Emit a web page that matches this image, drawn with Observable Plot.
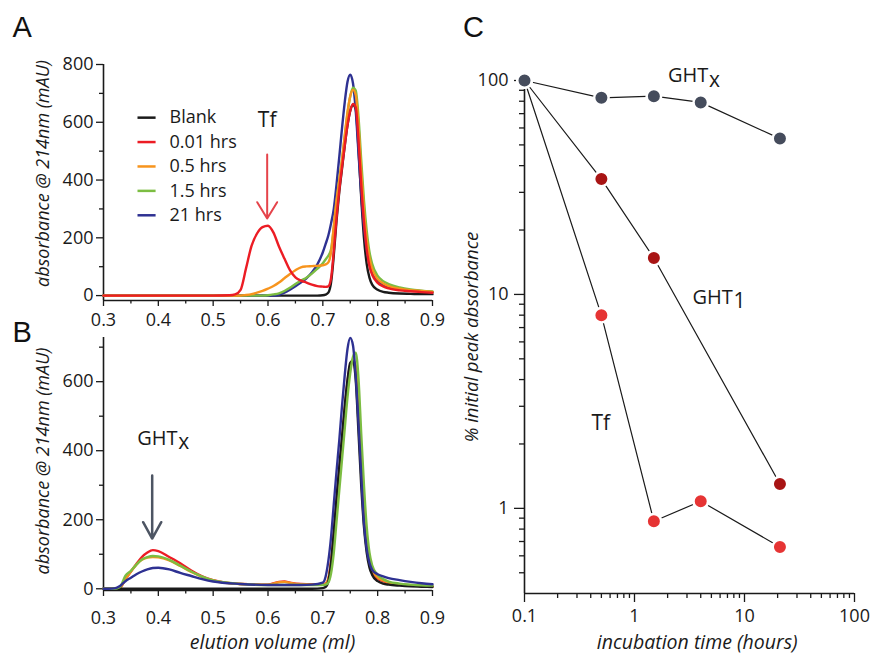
<!DOCTYPE html>
<html><head><meta charset="utf-8">
<script src="https://cdn.jsdelivr.net/npm/d3@7"></script>
<script src="https://cdn.jsdelivr.net/npm/@observablehq/plot@0.6"></script>
<style>
html,body{margin:0;padding:0;background:#fff;}
#root{position:relative;width:875px;height:653px;overflow:hidden;}
#root svg{position:absolute;}
</style></head><body><div id="root"></div>
<script>
// ---------- data ----------
const seriesNames = ["Blank", "0.01 hrs", "0.5 hrs", "1.5 hrs", "21 hrs"];
const seriesColors = ["#1a1a1a", "#ec1c24", "#f7941d", "#7cbd42", "#2e3192"];

// Panel A (elution volume, ml)
const xA = [0.30,0.40,0.50,0.53,0.54,0.55,0.56,0.57,0.58,0.59,0.60,0.61,0.62,0.63,0.64,0.65,0.66,0.67,0.68,0.69,
  0.70,0.705,0.71,0.715,0.72,0.725,0.73,0.735,0.74,0.745,0.75,0.755,0.76,0.765,0.77,0.775,0.78,0.785,0.79,0.80,0.81,0.82,0.84,0.86,0.88,0.90];
const blankA = [0,0,0,0,0,0,0,0,0,0,0,0,0,0,0,0,0,0,0,0,
  1,3,10,45,140,260,360,440,520,590,640,660,645,510,340,200,110,62,38,20,13,10,7,6,5,5];
const redA = [0,0,0,1,4,20,95,172,215,237,242,218,170,128,88,63,52,45,38,33,
  31,30,32,60,155,270,365,445,520,590,640,663,652,540,385,255,160,102,72,44,32,25,18,15,12,10];
const orangeA = [0,0,0,0,0,0,2,5,10,16,24,33,45,60,75,88,98,101,102,103,
  105,108,115,150,240,330,400,470,555,635,690,712,695,590,430,295,195,130,92,57,42,33,24,19,16,13];
const greenA = [0,0,0,0,0,0,0,0,0,0,1,4,8,16,27,40,52,62,76,93,
  112,125,138,160,235,325,400,470,550,630,690,720,710,620,470,330,225,152,110,68,50,40,28,21,17,14];
const blueA = [0,0,0,0,0,0,0,0,0,0,0,0,3,10,20,32,45,60,80,108,
  150,178,208,250,300,385,480,580,670,740,765,735,640,495,350,235,158,110,80,50,38,30,22,18,15,12];

// Panel B
const xB = [0.30,0.31,0.32,0.33,0.34,0.35,0.36,0.37,0.38,0.39,0.40,0.42,0.44,0.46,0.48,0.50,0.55,0.60,0.62,0.63,0.64,0.66,0.68,
  0.70,0.705,0.71,0.715,0.72,0.725,0.73,0.735,0.74,0.745,0.75,0.755,0.76,0.765,0.77,0.775,0.78,0.785,0.79,0.80,0.81,0.82,0.84,0.86,0.88,0.90];
const blankB = [0,0,0,0,0,0,0,0,0,0,0,0,0,0,0,0,0,0,0,0,0,0,0,
  2,5,22,75,165,265,355,440,530,605,655,660,605,455,300,180,105,62,40,22,15,12,9,7,6,5];
const redB = [0,0,0,3,28,50,72,92,105,112,109,92,74,53,36,25,14,12,20,21,18,14,13,
  13,15,28,80,160,250,340,430,520,600,648,662,635,510,355,225,135,80,52,30,22,17,12,10,8,7];
const orangeB = [0,0,0,3,27,50,70,84,90,92,91,82,66,49,34,24,14,12,19,20,17,13,12,
  12,14,28,75,150,240,330,420,510,590,640,662,645,530,370,235,140,85,55,33,24,18,13,10,8,7];
const greenB = [0,0,0,5,38,52,70,85,92,95,94,84,67,50,35,24,14,11,11,11,11,11,11,
  11,12,18,45,105,195,285,375,465,555,625,672,684,610,450,300,180,105,68,40,28,21,15,12,10,9];
const blueB = [0,0,1,8,22,32,42,50,56,60,61,56,46,37,28,21,14,11,11,11,11,11,12,
  18,35,80,150,245,340,430,530,620,695,727,705,615,480,330,190,115,75,55,42,36,31,25,20,16,13];

// Panel C (incubation time, hours; % initial peak absorbance)
const ghtxTime = [0.1, 0.5, 1.5, 4, 21];
const ghtxPct  = [100, 83, 84.5, 79, 53.5];
const ght1Time = [0.1, 0.5, 1.5, 21];
const ght1Pct  = [100, 34.6, 14.8, 1.3];
const tfTime   = [0.1, 0.5, 1.5, 4, 21];
const tfPct    = [100, 8.0, 0.87, 1.08, 0.66];
const cColors  = {ghtx: "#454c5c", ght1: "#a81414", tf: "#e63434"};

// ticks
const xMajorAB = [0.3,0.4,0.5,0.6,0.7,0.8,0.9];
const xMinorAB = [0.35,0.45,0.55,0.65,0.75,0.85];
const yMajorA = [0,200,400,600,800];
const yMinorA = [100,300,500,700];
const yMajorB = [0,200,400,600];
const yMinorB = [100,300,500,700];
const xMajorC = [0.1,1,10,100];
const xMinorC = [0.2,0.3,0.4,0.5,0.6,0.7,0.8,0.9,2,3,4,5,6,7,8,9,20,30,40,50,60,70,80,90];
const yMajorC = [1,10,100];
const yMinorC = [0.5,0.6,0.7,0.8,0.9,2,3,4,5,6,7,8,9,20,30,40,50,60,70,80,90];

// ---------- helpers ----------
const FONT = "'Open Sans', sans-serif";
const INK = "#1a1a1a";
const rows = (xs, ys) => xs.map((x, i) => ({x, y: ys[i]}));
const curve = (xs, ys, color) => Plot.line(rows(xs, ys), {x: "x", y: "y", stroke: color, strokeWidth: 2.4, curve: "monotone-x"});
const blankFmt = () => "";
const fmt1 = d3.format(".1f");
const yTitle = (label, dx, dy, size) => Plot.text([label], {frameAnchor: "left", rotate: -90, textAnchor: "middle", lineAnchor: "middle", dx, dy, fontSize: size, fontStyle: "italic", fill: INK});
const xTitle = (label, dx, dy, size) => Plot.text([label], {frameAnchor: "bottom", textAnchor: "middle", lineAnchor: "bottom", dx, dy, fontSize: size, fontStyle: "italic", fill: INK});
const letter = (label, dx, dy) => Plot.text([label], {frameAnchor: "top-left", dx, dy, lineAnchor: "bottom", textAnchor: "start", fontSize: 29, fontFamily: "'Liberation Sans', Arial, sans-serif", fill: "#111"});

const root = document.getElementById("root");
function place(svg, left, top) { svg.style.left = left + "px"; svg.style.top = top + "px"; root.appendChild(svg); }

// ---------- Panel A ----------
const legendRows = seriesNames.map((name, i) => ({name, color: seriesColors[i], i}));
const legendY = d => 616 - d.i * 84.5;
const tfAnnA = [{x: 0.5985, y: 585, label: "Tf"}];
const arrowA = [{x1: 0.5985, y1: 488, x2: 0.5985, y2: 267}];

const plotA = Plot.plot({
  width: 440, height: 330,
  marginLeft: 103, marginRight: 8, marginTop: 64, marginBottom: 30,
  style: {fontFamily: FONT, fontSize: "18px", color: INK, background: "transparent", overflow: "visible"},
  x: {domain: [0.3, 0.9]},
  y: {domain: [-17, 800]},
  color: {type: "identity"},
  marks: [
    Plot.axisX({ticks: xMajorAB, tickSize: 6, tickPadding: 7, tickFormat: fmt1, label: null, fontSize: 18, strokeWidth: 1.3}),
    Plot.axisX({ticks: xMinorAB, tickSize: 3.5, tickFormat: blankFmt, label: null, strokeWidth: 1.3}),
    Plot.axisY({ticks: yMajorA, tickSize: 7, tickPadding: 3, label: null, fontSize: 18, strokeWidth: 1.3}),
    Plot.axisY({ticks: yMinorA, tickSize: 4, tickFormat: blankFmt, label: null, strokeWidth: 1.3}),
    Plot.ruleX([0.3], {stroke: INK, strokeWidth: 1.6}),
    Plot.ruleY([-17], {stroke: INK, strokeWidth: 1.6}),
    curve(xA, blankA, seriesColors[0]),
    curve(xA, blueA, seriesColors[4]),
    curve(xA, greenA, seriesColors[3]),
    curve(xA, orangeA, seriesColors[2]),
    curve(xA, redA, seriesColors[1]),
    Plot.link(legendRows, {x1: () => 0.362, x2: () => 0.395, y1: legendY, y2: legendY, stroke: "color", strokeWidth: 2.5}),
    Plot.text(legendRows, {x: () => 0.4204, y: legendY, text: "name", textAnchor: "start", fontSize: 18, fill: INK}),
    Plot.text(tfAnnA, {x: "x", y: "y", text: "label", lineAnchor: "bottom", fontSize: 21, fill: INK}),
    Plot.arrow(arrowA, {x1: "x1", y1: "y1", x2: "x2", y2: "y2", stroke: "#e5434a", strokeWidth: 2, headLength: 14.3, headAngle: 63}),
    yTitle("absorbance @ 214nm (mAU)", -60, -9, 18),
    letter("A", -91, -28)
  ]
});
place(plotA, 0, 0);

// ---------- Panel B ----------
const ghtAnnB = [{x: 0.3615, y: 417.7}];
const arrowB = [{x1: 0.3888, y1: 328, x2: 0.3888, y2: 145.6}];
const plotB = Plot.plot({
  width: 440, height: 323,
  marginLeft: 103, marginRight: 8, marginTop: 7, marginBottom: 63,
  style: {fontFamily: FONT, fontSize: "18px", color: INK, background: "transparent", overflow: "visible"},
  x: {domain: [0.3, 0.9]},
  y: {domain: [-5, 728]},
  marks: [
    Plot.axisX({ticks: xMajorAB, tickSize: 6, tickPadding: 15, tickFormat: fmt1, label: null, fontSize: 18, strokeWidth: 1.3}),
    Plot.axisX({ticks: xMinorAB, tickSize: 3.5, tickFormat: blankFmt, label: null, strokeWidth: 1.3}),
    Plot.axisY({ticks: yMajorB, tickSize: 7, tickPadding: 3, label: null, fontSize: 18, strokeWidth: 1.3}),
    Plot.axisY({ticks: yMinorB, tickSize: 4, tickFormat: blankFmt, label: null, strokeWidth: 1.3}),
    Plot.ruleX([0.3], {stroke: INK, strokeWidth: 1.6}),
    Plot.ruleY([-5], {stroke: INK, strokeWidth: 1.6}),
    curve(xB, redB, seriesColors[1]),
    curve(xB, orangeB, seriesColors[2]),
    curve(xB, blankB, seriesColors[0]),
    curve(xB, greenB, seriesColors[3]),
    curve(xB, blueB, seriesColors[4]),
    Plot.text(ghtAnnB, {x: "x", y: "y", text: () => "GHT", textAnchor: "start", lineAnchor: "bottom", fontSize: 20, fill: INK}),
    Plot.text(ghtAnnB, {x: "x", y: "y", text: () => "x", textAnchor: "start", lineAnchor: "bottom", dx: 41, dy: 4.5, fontSize: 21, fill: INK}),
    Plot.arrow(arrowB, {x1: "x1", y1: "y1", x2: "x2", y2: "y2", stroke: "#4d5563", strokeWidth: 2.5, headLength: 11.2, headAngle: 58}),
    yTitle("absorbance @ 214nm (mAU)", -60, -3, 18),
    xTitle("elution volume (ml)", 4.5, 58, 19.5),
    letter("B", -91, 4.7)
  ]
});
place(plotB, 0, 330);

// ---------- Panel C ----------
const ghtxAnn = [{x: 2.012, y: 98.2}];
const ght1Ann = [{x: 3.37, y: 8.98}];
const tfAnnC = [{x: 0.493, y: 2.33}];
const dotStyle = color => ({x: "x", y: "y", r: 7.25, fill: color, stroke: "white", strokeWidth: 2.5});
const lineStyle = {x: "x", y: "y", stroke: INK, strokeWidth: 1.2};
const plotC = Plot.plot({
  width: 435, height: 653,
  marginLeft: 84, marginRight: 21, marginTop: 80, marginBottom: 60,
  style: {fontFamily: FONT, fontSize: "18px", color: INK, background: "transparent", overflow: "visible"},
  x: {type: "log", domain: [0.1, 100]},
  y: {type: "log", domain: [0.4, 100]},
  marks: [
    Plot.axisX({ticks: xMajorC, tickSize: 9, tickPadding: 7, tickFormat: d3.format("~g"), label: null, fontSize: 18, strokeWidth: 1.3}),
    Plot.axisX({ticks: xMinorC, tickSize: 5, tickFormat: blankFmt, label: null, strokeWidth: 1.3}),
    Plot.axisY({ticks: yMajorC, tickSize: 10, tickPadding: 6, tickFormat: d3.format("~g"), label: null, fontSize: 18, strokeWidth: 1.3}),
    Plot.axisY({ticks: yMinorC, tickSize: 5, tickFormat: blankFmt, label: null, strokeWidth: 1.3}),
    Plot.ruleX([0.1], {stroke: INK, strokeWidth: 1.6}),
    Plot.ruleY([0.4], {stroke: INK, strokeWidth: 1.6}),
    Plot.line(rows(tfTime, tfPct), lineStyle),
    Plot.line(rows(ght1Time, ght1Pct), lineStyle),
    Plot.line(rows(ghtxTime, ghtxPct), lineStyle),
    Plot.dot(rows(tfTime, tfPct), dotStyle(cColors.tf)),
    Plot.dot(rows(ght1Time, ght1Pct), dotStyle(cColors.ght1)),
    Plot.dot(rows(ghtxTime, ghtxPct), dotStyle(cColors.ghtx)),
    Plot.text(ghtxAnn, {x: "x", y: "y", text: () => "GHT", textAnchor: "start", lineAnchor: "bottom", fontSize: 20, fill: INK}),
    Plot.text(ghtxAnn, {x: "x", y: "y", text: () => "x", textAnchor: "start", lineAnchor: "bottom", dx: 41, dy: 4.5, fontSize: 21, fill: INK}),
    Plot.text(ght1Ann, {x: "x", y: "y", text: () => "GHT", textAnchor: "start", lineAnchor: "bottom", fontSize: 20, fill: INK}),
    Plot.text(ght1Ann, {x: "x", y: "y", text: () => "1", textAnchor: "start", lineAnchor: "bottom", dx: 41, dy: 4, fontSize: 21, fill: INK}),
    Plot.text(tfAnnC, {x: "x", y: "y", text: () => "Tf", lineAnchor: "bottom", fontSize: 21, fill: INK}),
    yTitle("% initial peak absorbance", -52, 0, 18.5),
    xTitle("incubation time (hours)", 7.7, 55, 19.5),
    letter("C", -61.6, -44)
  ]
});
place(plotC, 440, 0);
</script></body></html>
